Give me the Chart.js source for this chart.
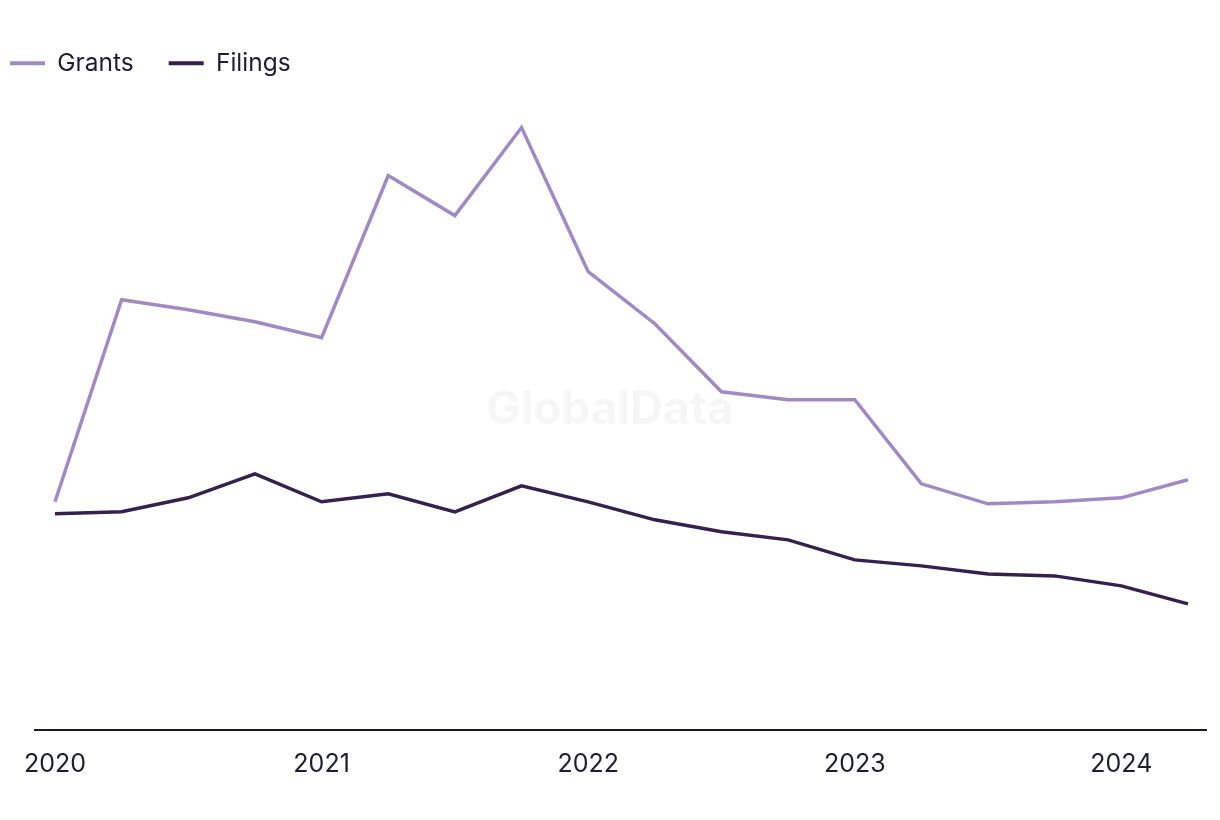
<!DOCTYPE html>
<html>
<head>
<meta charset="utf-8">
<script src="https://cdn.jsdelivr.net/npm/chart.js@4/dist/chart.umd.min.js"></script>
<style>
  html, body { margin: 0; padding: 0; background: #fff; }
  #wrap { width: 1220px; height: 820px; }
</style>
</head>
<body>
<div id="wrap"><canvas id="patentChart" width="1220" height="820"></canvas></div>
<script>
// quarterly, 2020 Q1 .. 2024 Q2
const quarters = ['2020 Q1','2020 Q2','2020 Q3','2020 Q4','2021 Q1','2021 Q2','2021 Q3','2021 Q4',
  '2022 Q1','2022 Q2','2022 Q3','2022 Q4','2023 Q1','2023 Q2','2023 Q3','2023 Q4','2024 Q1','2024 Q2'];
const yearTicks = [0, 4, 8, 12, 16];
const yearLabels = ['2020', '2021', '2022', '2023', '2024'];

const grants  = [114, 215, 210, 204, 196, 277, 257, 301, 229, 203, 169, 165, 165, 123, 113, 114, 116, 125];
const filings = [108, 109, 116, 128, 114, 118, 109, 122, 114, 105, 99, 95, 85, 82, 78, 77, 72, 63];

const textColor = '#1e1e32';
const fontFamily = 'Inter, "Open Sans", sans-serif';

const watermark = {
  id: 'watermark',
  beforeDatasetsDraw(chart) {
    const { ctx } = chart;
    ctx.save();
    ctx.font = 'bold 46px ' + fontFamily;
    ctx.fillStyle = 'rgba(0,0,0,0.035)';
    ctx.textAlign = 'center';
    ctx.textBaseline = 'middle';
    ctx.fillText('GlobalData', 610, 410);
    ctx.restore();
  }
};

const ctx = document.getElementById('patentChart').getContext('2d');
new Chart(ctx, {
  type: 'line',
  data: {
    datasets: [
      {
        label: 'Grants',
        data: grants.map((v, i) => ({ x: i, y: v })),
        borderColor: '#a08ac6',
        backgroundColor: '#a08ac6',
        borderWidth: 3.5,
        pointRadius: 0,
        tension: 0
      },
      {
        label: 'Filings',
        data: filings.map((v, i) => ({ x: i, y: v })),
        borderColor: '#35214f',
        backgroundColor: '#35214f',
        borderWidth: 3.5,
        pointRadius: 0,
        tension: 0
      }
    ]
  },
  options: {
    responsive: false,
    animation: false,
    layout: { padding: { top: 16, right: 14, bottom: 30, left: -25 } },
    plugins: {
      legend: {
        display: true,
        position: 'top',
        align: 'start',
        labels: {
          color: textColor,
          font: { family: fontFamily, size: 24.5 },
          boxWidth: 35,
          boxHeight: 4,
          padding: 35,
          generateLabels(chart) {
            return chart.data.datasets.map((ds, i) => ({
              text: ds.label,
              fillStyle: ds.borderColor,
              strokeStyle: ds.borderColor,
              lineWidth: 0,
              fontColor: textColor,
              datasetIndex: i,
              hidden: false
            }));
          }
        }
      },
      tooltip: { enabled: false }
    },
    scales: {
      x: {
        type: 'linear',
        min: -0.3,
        max: 17.27,
        afterBuildTicks(scale) {
          scale.ticks = yearTicks.map(v => ({ value: v }));
        },
        grid: { display: false },
        border: { display: true, color: '#1a1a2e', width: 2 },
        ticks: {
          color: textColor,
          font: { family: fontFamily, size: 25 },
          padding: 11,
          maxRotation: 0,
          callback(v) {
            const k = yearTicks.indexOf(v);
            return k >= 0 ? yearLabels[k] : '';
          }
        }
      },
      y: {
        min: 0,
        max: 322,
        grid: { display: false },
        border: { display: false },
        ticks: { display: false },
        afterFit(scale) { scale.width = 60; }
      }
    }
  },
  plugins: [watermark]
});
</script>
</body>
</html>
